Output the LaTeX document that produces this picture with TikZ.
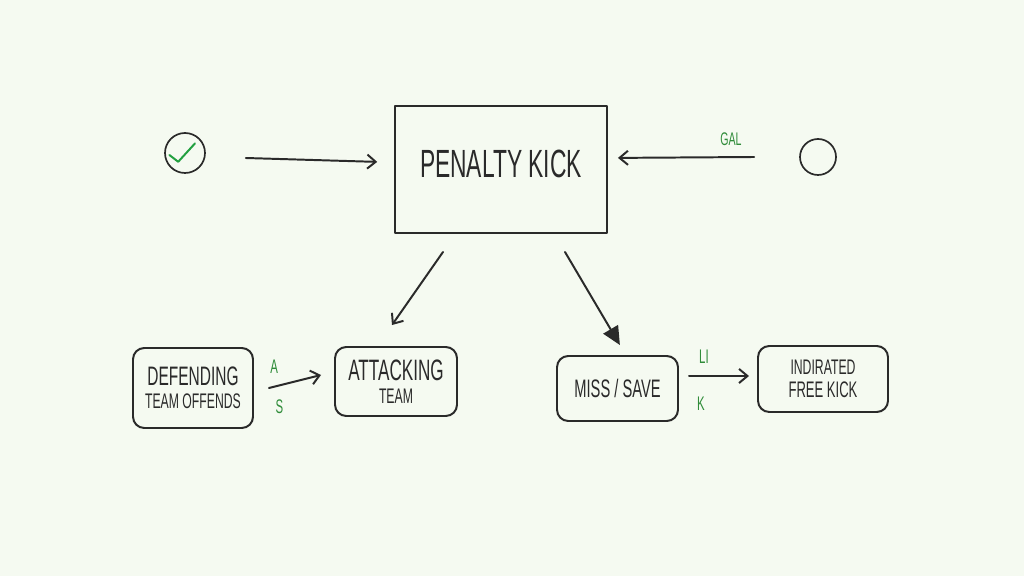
\documentclass[tikz,border=0pt]{standalone}
\usepackage{fontspec}
\newfontfamily\handfont[FakeStretch=0.58]{Liberation Sans}
\usepackage{tikz}
\usetikzlibrary{positioning,arrows.meta,calc}

\definecolor{paper}{RGB}{245,250,241}
\definecolor{ink}{RGB}{42,42,42}
\definecolor{marker}{RGB}{48,140,58}
\definecolor{tick}{RGB}{34,160,64}

\begin{document}
\begin{tikzpicture}[
    line join=round, line cap=round,
    kickbox/.style={rectangle, draw=ink, line width=1.4pt, text=ink,
                    minimum width=5.3cm, minimum height=3.175cm,
                    font=\handfont\fontsize{28}{30}\selectfont},
    outcome/.style={rectangle, draw=ink, line width=1.4pt, rounded corners=8pt,
                    text=ink, align=center, inner sep=2pt,
                    font=\handfont\fontsize{15}{16}\selectfont},
    ring/.style={circle, draw=ink, line width=1.2pt, inner sep=0pt},
    note/.style={text=marker, font=\handfont\fontsize{14}{16}\selectfont},
    flow/.style={-{Straight Barb[length=6pt,width=10pt]}, line width=1.4pt, ink},
    bigflow/.style={-{Triangle[length=13pt,width=12pt]}, line width=1.4pt, ink}
]

% paper
\fill[paper] (0,0) rectangle (25.6,14.4);

% top row
\node[ring, minimum size=1cm] (chk) at (4.625,10.575) {};
\draw[tick, line width=1.4pt] ($(chk)+(-0.39,-0.05)$) -- ($(chk)+(-0.17,-0.22)$)
    -- ($(chk)+(0.25,0.24)$);
\node[kickbox] (pk) at (12.525,10.1625)
    {\raisebox{4pt}[\height][\depth]{PENALTY KICK}};
\node[ring, minimum size=0.9cm] (ball) at (20.45,10.475) {};

% bottom row
\node[outcome, minimum width=3cm, minimum height=2cm] (def) at (4.825,4.7)
    {{\fontsize{19}{16}\selectfont DEFENDING}\\
     TEAM OFFENDS};
\node[outcome, minimum width=3.05cm, minimum height=1.725cm] (att) at (9.9,4.8625)
    {{\fontsize{21}{16}\selectfont ATTACKING}\\
     TEAM};
\node[outcome, minimum width=3.025cm, minimum height=1.625cm] (miss) at (15.4375,4.6875)
    {{\fontsize{18}{16}\selectfont MISS / SAVE}};
\node[outcome, minimum width=3.25cm, minimum height=1.65cm] (ind) at (20.575,4.925)
    {INDIRATED\\
     {\fontsize{16}{16}\selectfont FREE KICK}};

% arrows into the kick
\draw[flow] ([xshift=1cm,yshift=-0.125cm]chk.east)
    -- ([xshift=-0.42cm,yshift=0.19cm]pk.west);
\draw[flow] ([xshift=-1.125cm]ball.west) -- node[note, pos=0.17, above=4pt,
    font=\handfont\fontsize{13}{14}\selectfont] (gal) {GAL}
    ([xshift=0.25cm,yshift=0.29cm]pk.east);

% arrows out of the kick
\draw[flow] ([xshift=-1.45cm,yshift=-0.45cm]pk.south)
    -- ([xshift=-0.1cm,yshift=0.525cm]att.north);
\draw[bigflow] ([xshift=1.6cm,yshift=-0.45cm]pk.south)
    -- ([xshift=0.06cm,yshift=0.25cm]miss.north);

% side arrows
\draw[flow] ([xshift=0.375cm]def.east) --
    node[note, pos=0.1, above=5pt] (la) {A}
    node[note, pos=0.2, below=6pt] (ls) {S}
    ([xshift=-0.325cm,yshift=0.1625cm]att.west);
\draw[flow] ([xshift=0.25cm,yshift=0.3125cm]miss.east) --
    node[note, pos=0.25, above=5pt] (li) {LI}
    node[note, pos=0.2, below=11pt] (lk) {K}
    ([xshift=-0.2cm,yshift=0.075cm]ind.west);

\end{tikzpicture}
\end{document}
